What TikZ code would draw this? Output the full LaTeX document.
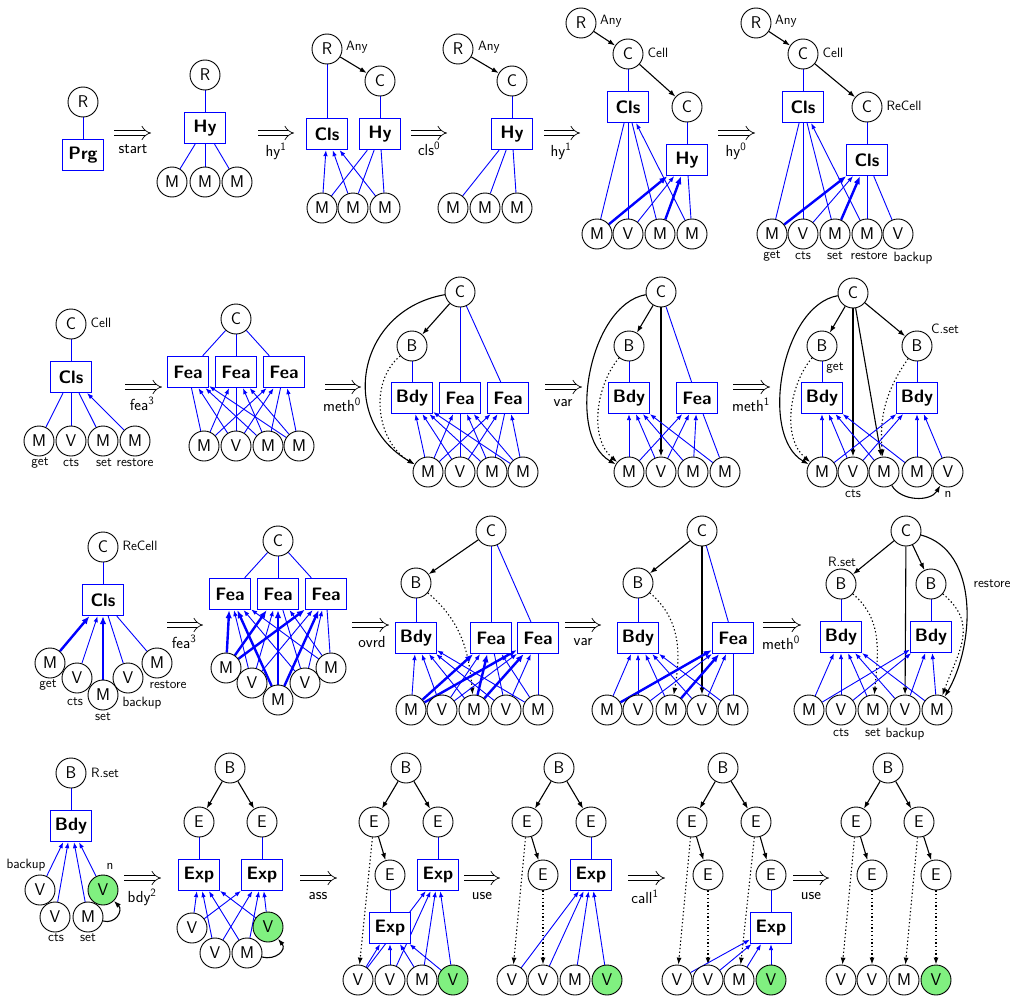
\documentclass[tikz,border=0pt]{standalone}
\usetikzlibrary{arrows.meta}
\definecolor{vgreen}{RGB}{128,240,128}
\pgfdeclarelayer{bg}
\pgfsetlayers{bg,main}
\begin{document}
\begin{tikzpicture}[x=1pt,y=1pt,
 cir/.style={circle,draw,line width=0.9pt,fill=white,minimum size=30pt,inner sep=0pt,font=\fontsize{17}{17}\selectfont\sffamily},
 grn/.style={cir,fill=vgreen},
 bx/.style={rectangle,draw=blue,line width=1.3pt,fill=white,minimum width=41pt,minimum height=31pt,inner sep=0pt,font=\fontsize{18}{18}\selectfont\sffamily\bfseries},
 own/.style={draw=blue,line width=0.9pt},
 inh/.style={draw=blue,line width=0.9pt,-{Latex[length=6pt,width=4.5pt]}},
 thk/.style={draw=blue,line width=2.4pt,-{Latex[length=8pt,width=6.5pt]}},
 blk/.style={draw=black,line width=1.1pt,-{Latex[length=7pt,width=5pt]}},
 dotarr/.style={draw=black,line width=1.1pt,dash pattern=on 1.3pt off 2.4pt,-{Latex[length=7pt,width=5pt]}},
 trarr/.style={draw=black,line width=0.7pt,double distance=4.4pt,-{Implies}},
 lab/.style={font=\fontsize{13.5}{13.5}\selectfont\sffamily,inner sep=0pt},
 trl/.style={font=\fontsize{16}{16}\selectfont\sffamily,inner sep=0pt}]
\useasboundingbox (0,0) rectangle (1023,-998);
% ================= TRANSITION ARROWS
\foreach \nm/\xa/\xb/\yy in {t1/114/151/-133, t2/258/294/-133, t3/411/447/-133, t4/544/580/-133, t5/718/755/-133,
  t6/125/162/-387, t7/325/361/-387, t8/545/582/-387, t9/733/770/-387,
  t10/167/203/-625, t11/352/389/-625, t12/565/601/-625, t13/763/801/-625,
  t14/124/161/-878, t15/300/337/-878, t16/464/500/-878, t17/628/665/-878, t18/793/829/-878} {
  \coordinate (\nm a) at (\xa,\yy);
  \coordinate (\nm b) at (\xb,\yy);
  \draw[trarr] (\nm a) -- (\nm b);
}
\node[trl] (t1l) at (133,-149) {start};
\node[trl] (t2l) at (276,-151) {hy\textsuperscript{1}};
\node[trl] (t3l) at (429,-149) {cls\textsuperscript{0}};
\node[trl] (t4l) at (561,-151) {hy\textsuperscript{1}};
\node[trl] (t5l) at (736,-151) {hy\textsuperscript{0}};
\node[trl] (t6l) at (142,-404) {fea\textsuperscript{3}};
\node[trl] (t7l) at (342,-405) {meth\textsuperscript{0}};
\node[trl] (t8l) at (563,-403) {var};
\node[trl] (t9l) at (751,-405) {meth\textsuperscript{1}};
\node[trl] (t10l) at (184,-642) {fea\textsuperscript{3}};
\node[trl] (t11l) at (372,-642) {ovrd};
\node[trl] (t12l) at (583,-642) {var};
\node[trl] (t13l) at (781,-643) {meth\textsuperscript{0}};
\node[trl] (t14l) at (142,-897) {bdy\textsuperscript{2}};
\node[trl] (t15l) at (318,-896) {ass};
\node[trl] (t16l) at (482,-896) {use};
\node[trl] (t17l) at (645,-897) {call\textsuperscript{1}};
\node[trl] (t18l) at (811,-896) {use};
% ================= ROW 1
\node[cir] (a1r) at (83,-102) {R};
\node[bx] (a1b) at (83,-155) {Prg};
\node[cir] (a2r) at (205,-75) {R};
\node[bx] (a2h) at (205,-128) {Hy};
\node[cir] (a2m1) at (172,-182) {M};
\node[cir] (a2m2) at (205,-182) {M};
\node[cir] (a2m3) at (237,-182) {M};
\node[cir] (a3r) at (327,-49) {R};
\node[lab] (a3l) at (357,-47) {Any};
\node[cir] (a3c) at (380,-81) {C};
\node[bx] (a3cl) at (327,-134) {Cls};
\node[bx] (a3h) at (380,-134) {Hy};
\node[cir] (a3m1) at (322,-208) {M};
\node[cir] (a3m2) at (353,-208) {M};
\node[cir] (a3m3) at (385,-208) {M};
\node[cir] (a4r) at (458,-49) {R};
\node[lab] (a4l) at (489,-47) {Any};
\node[cir] (a4c) at (512,-81) {C};
\node[bx] (a4h) at (512,-134) {Hy};
\node[cir] (a4m1) at (453,-208) {M};
\node[cir] (a4m2) at (485,-208) {M};
\node[cir] (a4m3) at (517,-208) {M};
\node[cir] (a5r) at (581,-23) {R};
\node[lab] (a5l1) at (611,-21) {Any};
\node[cir] (a5c) at (628,-54) {C};
\node[lab] (a5l2) at (658,-53) {Cell};
\node[cir] (a5c2) at (687,-107) {C};
\node[bx] (a5cl) at (628,-107) {Cls};
\node[bx] (a5h) at (687,-160) {Hy};
\node[cir] (a5m1) at (597,-234) {M};
\node[cir] (a5v2) at (628,-234) {V};
\node[cir] (a5m3) at (660,-234) {M};
\node[cir] (a5m4) at (692,-234) {M};
\node[cir] (a6r) at (756,-23) {R};
\node[lab] (a6l1) at (786,-21) {Any};
\node[cir] (a6c) at (803,-54) {C};
\node[lab] (a6l2) at (833,-53) {Cell};
\node[cir] (a6c2) at (867,-107) {C};
\node[lab] (a6l3) at (904,-106) {ReCell};
\node[bx] (a6cl) at (803,-107) {Cls};
\node[bx] (a6cl2) at (867,-160) {Cls};
\node[cir] (a6m1) at (772,-234) {M};
\node[cir] (a6v2) at (803,-234) {V};
\node[cir] (a6m3) at (835,-234) {M};
\node[cir] (a6m4) at (867,-234) {M};
\node[cir] (a6v5) at (898,-234) {V};
\node[lab] (a6g1) at (772,-256) {get};
\node[lab] (a6g2) at (803,-256) {cts};
\node[lab] (a6g3) at (835,-256) {set};
\node[lab] (a6g4) at (869,-256) {restore};
\node[lab] (a6g5) at (913,-258) {backup};
% ================= ROW 2
\node[cir] (b1c) at (71,-324) {C};
\node[lab] (b1l) at (101,-323) {Cell};
\node[bx] (b1cl) at (71,-377) {Cls};
\node[cir] (b1m1) at (39,-441) {M};
\node[cir] (b1v2) at (71,-441) {V};
\node[cir] (b1m3) at (103,-441) {M};
\node[cir] (b1m4) at (135,-441) {M};
\node[lab] (b1g1) at (40,-463) {get};
\node[lab] (b1g2) at (71,-463) {cts};
\node[lab] (b1g3) at (104,-463) {set};
\node[lab] (b1g4) at (135,-463) {restore};
\node[cir] (b2c) at (236,-319) {C};
\node[bx] (b2f1) at (188,-372) {Fea};
\node[bx] (b2f2) at (236,-372) {Fea};
\node[bx] (b2f3) at (284,-372) {Fea};
\node[cir] (b2m1) at (204,-446) {M};
\node[cir] (b2v2) at (236,-446) {V};
\node[cir] (b2m3) at (268,-446) {M};
\node[cir] (b2m4) at (299,-446) {M};
\node[cir] (b3c) at (460,-292) {C};
\node[cir] (b3b) at (412,-346) {B};
\node[bx] (b3bd) at (412,-398) {Bdy};
\node[bx] (b3f1) at (460,-398) {Fea};
\node[bx] (b3f2) at (508,-398) {Fea};
\node[cir] (b3m1) at (428,-472) {M};
\node[cir] (b3v2) at (460,-472) {V};
\node[cir] (b3m3) at (492,-472) {M};
\node[cir] (b3m4) at (523,-472) {M};
\node[cir] (b4c) at (661,-292) {C};
\node[cir] (b4b) at (629,-346) {B};
\node[bx] (b4bd) at (629,-398) {Bdy};
\node[bx] (b4f) at (697,-398) {Fea};
\node[cir] (b4m1) at (629,-472) {M};
\node[cir] (b4v2) at (661,-472) {V};
\node[cir] (b4m3) at (693,-472) {M};
\node[cir] (b4m4) at (725,-472) {M};
\node[cir] (b5c) at (853,-293) {C};
\node[cir] (b5b1) at (822,-346) {B};
\node[cir] (b5b2) at (917,-346) {B};
\node[lab] (b5l1) at (945,-329) {C.set};
\node[lab] (b5l2) at (835,-368) {get};
\node[bx] (b5bd1) at (822,-398) {Bdy};
\node[bx] (b5bd2) at (917,-398) {Bdy};
\node[cir] (b5m1) at (822,-472) {M};
\node[cir] (b5v2) at (853,-472) {V};
\node[cir] (b5m3) at (884,-472) {M};
\node[cir] (b5m4) at (917,-472) {M};
\node[cir] (b5v5) at (948,-472) {V};
\node[lab] (b5g2) at (853,-494) {cts};
\node[lab] (b5g5) at (948,-494) {n};
% ================= ROW 3
\node[cir] (c1c) at (103,-547) {C};
\node[lab] (c1l) at (140,-546) {ReCell};
\node[bx] (c1cl) at (103,-600) {Cls};
\node[cir] (c1m1) at (50,-663) {M};
\node[cir] (c1v2) at (77,-678) {V};
\node[cir] (c1m3) at (103,-695) {M};
\node[cir] (c1v4) at (128,-678) {V};
\node[cir] (c1m5) at (157,-663) {M};
\node[lab] (c1g1) at (48,-685) {get};
\node[lab] (c1g2) at (75,-702) {cts};
\node[lab] (c1g3) at (103,-717) {set};
\node[lab] (c1g4) at (142,-703) {backup};
\node[lab] (c1g5) at (168,-685) {restore};
\node[cir] (c2c) at (278,-541) {C};
\node[bx] (c2f1) at (230,-594) {Fea};
\node[bx] (c2f2) at (278,-594) {Fea};
\node[bx] (c2f3) at (326,-594) {Fea};
\node[cir] (c2m1) at (226,-668) {M};
\node[cir] (c2v2) at (252,-683) {V};
\node[cir] (c2m3) at (278,-700) {M};
\node[cir] (c2v4) at (305,-683) {V};
\node[cir] (c2m5) at (331,-668) {M};
\node[cir] (c3c) at (491,-531) {C};
\node[cir] (c3b) at (416,-583) {B};
\node[bx] (c3bd) at (416,-638) {Bdy};
\node[bx] (c3f1) at (491,-638) {Fea};
\node[bx] (c3f2) at (538,-638) {Fea};
\node[cir] (c3m1) at (411,-710) {M};
\node[cir] (c3v2) at (442,-710) {V};
\node[cir] (c3m3) at (474,-710) {M};
\node[cir] (c3v4) at (506,-710) {V};
\node[cir] (c3m5) at (538,-710) {M};
\node[cir] (c4c) at (702,-531) {C};
\node[cir] (c4b) at (638,-583) {B};
\node[bx] (c4bd) at (638,-638) {Bdy};
\node[bx] (c4f) at (733,-638) {Fea};
\node[cir] (c4m1) at (607,-710) {M};
\node[cir] (c4v2) at (638,-710) {V};
\node[cir] (c4m3) at (671,-710) {M};
\node[cir] (c4v4) at (702,-710) {V};
\node[cir] (c4m5) at (733,-710) {M};
\node[cir] (c5c) at (906,-531) {C};
\node[cir] (c5b1) at (841,-584) {B};
\node[lab] (c5l1) at (842,-562) {R.set};
\node[cir] (c5b2) at (931,-584) {B};
\node[lab] (c5l2) at (992,-584) {restore};
\node[bx] (c5bd1) at (841,-637) {Bdy};
\node[bx] (c5bd2) at (931,-637) {Bdy};
\node[cir] (c5m1) at (809,-710) {M};
\node[cir] (c5v2) at (841,-710) {V};
\node[cir] (c5m3) at (873,-710) {M};
\node[cir] (c5v4) at (905,-710) {V};
\node[cir] (c5m5) at (937,-710) {M};
\node[lab] (c5g2) at (841,-733) {cts};
\node[lab] (c5g3) at (873,-733) {set};
\node[lab] (c5g4) at (905,-734) {backup};
% ================= ROW 4
\node[cir] (d1b) at (71,-773) {B};
\node[lab] (d1l) at (105,-773) {R.set};
\node[bx] (d1bd) at (71,-826) {Bdy};
\node[cir] (d1v1) at (40,-890) {V};
\node[cir] (d1v2) at (55,-917) {V};
\node[cir] (d1m) at (88,-917) {M};
\node[grn] (d1vg) at (103,-890) {V};
\node[lab] (d1g1) at (26,-865) {backup};
\node[lab] (d1g2) at (56,-938) {cts};
\node[lab] (d1g3) at (88,-938) {set};
\node[lab] (d1g4) at (110,-866) {n};
\node[cir] (d2b) at (230,-768) {B};
\node[cir] (d2e1) at (199,-822) {E};
\node[cir] (d2e2) at (262,-822) {E};
\node[bx] (d2x1) at (199,-875) {Exp};
\node[bx] (d2x2) at (262,-875) {Exp};
\node[cir] (d2v1) at (192,-928) {V};
\node[cir] (d2v2) at (215,-953) {V};
\node[cir] (d2m) at (247,-953) {M};
\node[grn] (d2vg) at (268,-927) {V};
\node[cir] (d3b) at (406,-768) {B};
\node[cir] (d3e1) at (374,-822) {E};
\node[cir] (d3e2) at (438,-822) {E};
\node[cir] (d3e3) at (390,-875) {E};
\node[bx] (d3x1) at (390,-928) {Exp};
\node[bx] (d3x2) at (438,-875) {Exp};
\node[cir] (d3v1) at (358,-980) {V};
\node[cir] (d3v2) at (390,-980) {V};
\node[cir] (d3m) at (422,-980) {M};
\node[grn] (d3vg) at (453,-980) {V};
\node[cir] (d4b) at (559,-768) {B};
\node[cir] (d4e1) at (527,-822) {E};
\node[cir] (d4e2) at (591,-822) {E};
\node[cir] (d4e3) at (543,-875) {E};
\node[bx] (d4x) at (591,-875) {Exp};
\node[cir] (d4v1) at (512,-980) {V};
\node[cir] (d4v2) at (543,-980) {V};
\node[cir] (d4m) at (575,-980) {M};
\node[grn] (d4vg) at (607,-980) {V};
\node[cir] (d5b) at (723,-768) {B};
\node[cir] (d5e1) at (692,-822) {E};
\node[cir] (d5e2) at (756,-822) {E};
\node[cir] (d5e3) at (708,-875) {E};
\node[cir] (d5e4) at (771,-875) {E};
\node[bx] (d5x) at (771,-928) {Exp};
\node[cir] (d5v1) at (677,-980) {V};
\node[cir] (d5v2) at (708,-980) {V};
\node[cir] (d5m) at (739,-980) {M};
\node[grn] (d5vg) at (771,-980) {V};
\node[cir] (d6b) at (888,-768) {B};
\node[cir] (d6e1) at (856,-822) {E};
\node[cir] (d6e2) at (919,-822) {E};
\node[cir] (d6e3) at (872,-875) {E};
\node[cir] (d6e4) at (936,-875) {E};
\node[cir] (d6v1) at (841,-980) {V};
\node[cir] (d6v2) at (872,-980) {V};
\node[cir] (d6m) at (904,-980) {M};
\node[grn] (d6vg) at (936,-980) {V};
% ================= EDGES
\begin{pgfonlayer}{bg}
\draw[own] (a1r) -- (a1b);
\draw[own] (a2r) -- (a2h);
\foreach \n in {a2m1,a2m2,a2m3} \draw[own] (a2h) -- (\n);
\draw[blk] (a3r) -- (a3c);
\draw[own] (a3r) -- (a3cl);
\draw[own] (a3c) -- (a3h);
\foreach \n in {a3m1,a3m2,a3m3} {\draw[inh] (\n) -- (a3cl); \draw[own] (a3h) -- (\n);}
\draw[blk] (a4r) -- (a4c);
\draw[own] (a4c) -- (a4h);
\foreach \n in {a4m1,a4m2,a4m3} \draw[own] (a4h) -- (\n);
\draw[blk] (a5r) -- (a5c);
\draw[blk] (a5c) -- (a5c2);
\draw[own] (a5c) -- (a5cl);
\draw[own] (a5c2) -- (a5h);
\foreach \n in {a5m1,a5v2,a5m3} \draw[own] (a5cl) -- (\n);
\draw[inh] (a5m4) -- (a5cl);
\draw[thk] (a5m1) -- (a5h);
\draw[inh] (a5v2) -- (a5h);
\draw[thk] (a5m3) -- (a5h);
\draw[own] (a5h) -- (a5m4);
\draw[blk] (a6r) -- (a6c);
\draw[blk] (a6c) -- (a6c2);
\draw[own] (a6c) -- (a6cl);
\draw[own] (a6c2) -- (a6cl2);
\foreach \n in {a6m1,a6v2,a6m3} \draw[own] (a6cl) -- (\n);
\draw[inh] (a6m4) -- (a6cl);
\draw[thk] (a6m1) -- (a6cl2);
\draw[inh] (a6v2) -- (a6cl2);
\draw[thk] (a6m3) -- (a6cl2);
\draw[own] (a6cl2) -- (a6m4);
\draw[own] (a6cl2) -- (a6v5);
\draw[own] (b1c) -- (b1cl);
\foreach \n in {b1m1,b1v2,b1m3} \draw[own] (b1cl) -- (\n);
\draw[inh] (b1m4) -- (b1cl);
\foreach \n in {b2f1,b2f2,b2f3} \draw[own] (b2c) -- (\n);
\draw[own] (b2f1) -- (b2m1);
\foreach \n in {b2v2,b2m3,b2m4} \draw[inh] (\n) -- (b2f1);
\draw[own] (b2f2) -- (b2v2);
\foreach \n in {b2m1,b2m3,b2m4} \draw[inh] (\n) -- (b2f2);
\draw[own] (b2f3) -- (b2m3);
\foreach \n in {b2m1,b2v2,b2m4} \draw[inh] (\n) -- (b2f3);
\draw[blk] (b3c) -- (b3b);
\draw[own] (b3c) -- (b3f1);
\draw[own] (b3c) -- (b3f2);
\draw[own] (b3b) -- (b3bd);
\draw[blk] (b3c) to[out=190,in=150,looseness=1.33] (b3m1);
\draw[dotarr] (b3b) to[out=220,in=150,looseness=1] (b3m1);
\foreach \n in {b3m1,b3v2,b3m3,b3m4} \draw[inh] (\n) -- (b3bd);
\draw[own] (b3f1) -- (b3v2);
\foreach \n in {b3m1,b3m3,b3m4} \draw[inh] (\n) -- (b3f1);
\draw[own] (b3f2) -- (b3m3);
\foreach \n in {b3m1,b3v2,b3m4} \draw[inh] (\n) -- (b3f2);
\draw[blk] (b4c) -- (b4b);
\draw[own] (b4c) -- (b4f);
\draw[blk] (b4c) -- (b4v2);
\draw[own] (b4b) -- (b4bd);
\draw[blk] (b4c) to[out=190,in=150,looseness=0.86] (b4m1);
\draw[dotarr] (b4b) to[out=230,in=140,looseness=0.9] (b4m1);
\foreach \n in {b4m1,b4v2,b4m3,b4m4} \draw[inh] (\n) -- (b4bd);
\foreach \n in {b4m1,b4v2,b4m3} \draw[inh] (\n) -- (b4f);
\draw[own] (b4f) -- (b4m4);
\draw[blk] (b5c) -- (b5b1);
\draw[blk] (b5c) -- (b5b2);
\draw[blk] (b5c) -- (b5v2);
\draw[blk] (b5c) -- (b5m3);
\draw[blk] (b5c) to[out=190,in=150,looseness=0.86] (b5m1);
\draw[dotarr] (b5b1) to[out=230,in=140,looseness=0.9] (b5m1);
\draw[dotarr] (b5b2) to[out=235,in=95,looseness=1] (b5m3);
\draw[blk] (b5m3) to[out=-60,in=-120,looseness=1] (b5v5);
\draw[own] (b5b1) -- (b5bd1);
\draw[own] (b5b2) -- (b5bd2);
\foreach \n in {b5m1,b5v2,b5m3,b5m4} \draw[inh] (\n) -- (b5bd1);
\foreach \n in {b5m1,b5v2,b5m4,b5v5} \draw[inh] (\n) -- (b5bd2);
\draw[own] (c1c) -- (c1cl);
\draw[thk] (c1m1) -- (c1cl);
\draw[inh] (c1v2) -- (c1cl);
\draw[thk] (c1m3) -- (c1cl);
\draw[own] (c1cl) -- (c1v4);
\draw[own] (c1cl) -- (c1m5);
\foreach \f in {c2f1,c2f2,c2f3} {
  \draw[own] (c2c) -- (\f);
  \draw[thk] (c2m1) -- (\f);
  \draw[thk] (c2m3) -- (\f);
  \draw[inh] (c2v2) -- (\f);}
\draw[inh] (c2v4) -- (c2f1);
\draw[inh] (c2m5) -- (c2f1);
\draw[own] (c2f2) -- (c2v4);
\draw[inh] (c2m5) -- (c2f2);
\draw[inh] (c2v4) -- (c2f3);
\draw[own] (c2f3) -- (c2m5);
\draw[blk] (c3c) -- (c3b);
\draw[own] (c3c) -- (c3f1);
\draw[own] (c3c) -- (c3f2);
\draw[own] (c3b) -- (c3bd);
\draw[dotarr] (c3b) to[out=-40,in=95,looseness=1] (c3m3);
\foreach \n in {c3m1,c3v2,c3m3,c3v4,c3m5} \draw[inh] (\n) -- (c3bd);
\foreach \f in {c3f1,c3f2} {
  \draw[thk] (c3m1) -- (\f);
  \draw[thk] (c3m3) -- (\f);
  \draw[inh] (c3v2) -- (\f);}
\draw[own] (c3f1) -- (c3v4);
\draw[inh] (c3m5) -- (c3f1);
\draw[inh] (c3v4) -- (c3f2);
\draw[own] (c3f2) -- (c3m5);
\draw[blk] (c4c) -- (c4b);
\draw[blk] (c4c) -- (c4v4);
\draw[own] (c4c) -- (c4f);
\draw[own] (c4b) -- (c4bd);
\draw[dotarr] (c4b) to[out=-40,in=80,looseness=1] (c4m3);
\foreach \n in {c4m1,c4v2,c4m3,c4v4,c4m5} \draw[inh] (\n) -- (c4bd);
\draw[thk] (c4m1) -- (c4f);
\draw[thk] (c4m3) -- (c4f);
\draw[inh] (c4v2) -- (c4f);
\draw[inh] (c4v4) -- (c4f);
\draw[own] (c4f) -- (c4m5);
\draw[blk] (c5c) -- (c5b1);
\draw[blk] (c5c) -- (c5b2);
\draw[blk] (c5c) -- (c5v4);
\draw[blk] (c5c) to[out=-15,in=60,looseness=0.95] (c5m5);
\draw[dotarr] (c5b1) to[out=-40,in=85,looseness=1] (c5m3);
\draw[dotarr] (c5b2) to[out=-40,in=70,looseness=1.2] (c5m5);
\draw[own] (c5b1) -- (c5bd1);
\draw[own] (c5b2) -- (c5bd2);
\foreach \n in {c5m1,c5v2,c5m3,c5v4,c5m5} \draw[inh] (\n) -- (c5bd1);
\foreach \n in {c5m1,c5v2,c5v4,c5m5} \draw[inh] (\n) -- (c5bd2);
\draw[own] (d1b) -- (d1bd);
\foreach \n in {d1v1,d1v2,d1m,d1vg} \draw[inh] (\n) -- (d1bd);
\draw[blk] (d1m) to[out=-15,in=-45,looseness=1.5] (d1vg);
\draw[blk] (d2b) -- (d2e1);
\draw[blk] (d2b) -- (d2e2);
\draw[own] (d2e1) -- (d2x1);
\draw[own] (d2e2) -- (d2x2);
\foreach \n in {d2v1,d2v2,d2m,d2vg} {\draw[inh] (\n) -- (d2x1); \draw[inh] (\n) -- (d2x2);}
\draw[blk] (d2m) to[out=-15,in=-50,looseness=1.5] (d2vg);
\draw[blk] (d3b) -- (d3e1);
\draw[blk] (d3b) -- (d3e2);
\draw[blk] (d3e1) -- (d3e3);
\draw[dotarr] (d3e1) -- (d3v1);
\draw[own] (d3e3) -- (d3x1);
\draw[own] (d3e2) -- (d3x2);
\foreach \n in {d3v1,d3v2,d3m,d3vg} {\draw[inh] (\n) -- (d3x1); \draw[inh] (\n) -- (d3x2);}
\draw[blk] (d4b) -- (d4e1);
\draw[blk] (d4b) -- (d4e2);
\draw[blk] (d4e1) -- (d4e3);
\draw[dotarr] (d4e1) -- (d4v1);
\draw[dotarr] (d4e3) -- (d4v2);
\draw[own] (d4e2) -- (d4x);
\foreach \n in {d4v1,d4v2,d4m,d4vg} \draw[inh] (\n) -- (d4x);
\draw[blk] (d5b) -- (d5e1);
\draw[blk] (d5b) -- (d5e2);
\draw[blk] (d5e1) -- (d5e3);
\draw[blk] (d5e2) -- (d5e4);
\draw[dotarr] (d5e1) -- (d5v1);
\draw[dotarr] (d5e3) -- (d5v2);
\draw[dotarr] (d5e2) -- (d5m);
\draw[own] (d5e4) -- (d5x);
\foreach \n in {d5v1,d5v2,d5m,d5vg} \draw[inh] (\n) -- (d5x);
\draw[blk] (d6b) -- (d6e1);
\draw[blk] (d6b) -- (d6e2);
\draw[blk] (d6e1) -- (d6e3);
\draw[blk] (d6e2) -- (d6e4);
\draw[dotarr] (d6e1) -- (d6v1);
\draw[dotarr] (d6e3) -- (d6v2);
\draw[dotarr] (d6e2) -- (d6m);
\draw[dotarr] (d6e4) -- (d6vg);
\end{pgfonlayer}
\end{tikzpicture}
\end{document}
